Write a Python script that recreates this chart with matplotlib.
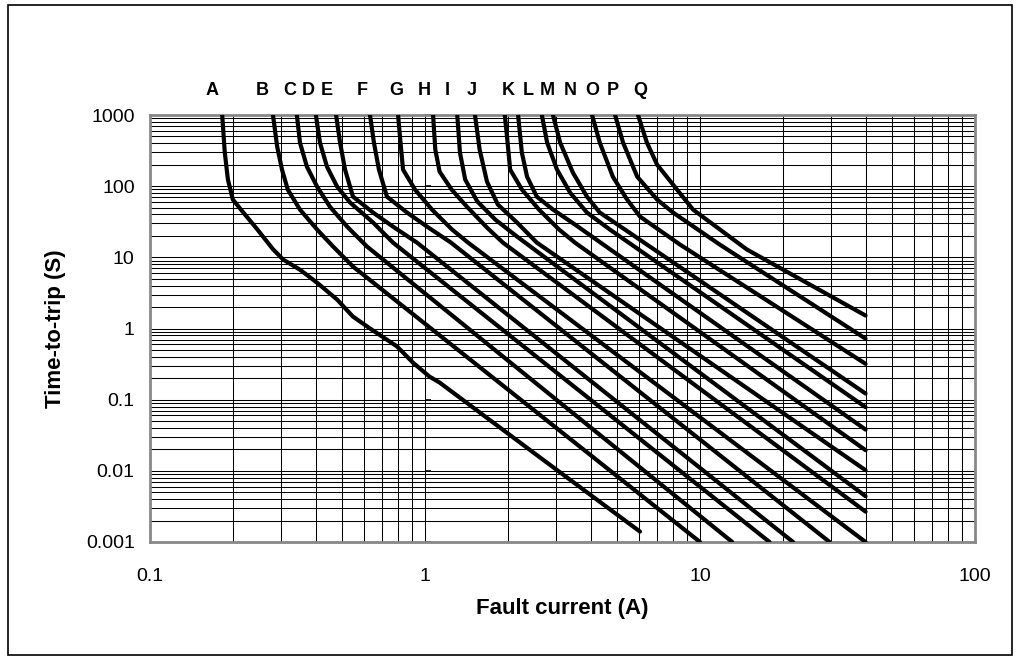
import matplotlib
matplotlib.use("Agg")
import matplotlib.pyplot as plt
from matplotlib.ticker import LogLocator, FixedLocator, FixedFormatter, NullFormatter
from matplotlib.patches import Rectangle

plt.rcParams['font.family'] = ['Liberation Sans', 'DejaVu Sans']

# ---- data: fault current (A) and time-to-trip (s) for each curve ----
curve_names = list("ABCDEFGHIJKLMNOPQ")

A_I = [0.183, 0.187, 0.192, 0.200, 0.218, 0.245, 0.280, 0.305, 0.351, 0.405, 0.479, 0.547, 0.631, 0.791, 0.905, 1.04, 1.13, 2.62, 6.05]
A_T = [1000, 300, 124, 65, 43, 25, 13, 9.3, 6.7, 4.4, 2.55, 1.47, 1.0, 0.56, 0.33, 0.21, 0.174, 0.0154, 0.0014]
B_I = [0.280, 0.290, 0.302, 0.317, 0.351, 0.405, 0.463, 0.547, 10.0]
B_T = [1000, 360, 171, 89.4, 46.9, 24.6, 14.2, 7.43, 0.001]
C_I = [0.342, 0.351, 0.372, 0.405, 0.451, 0.521, 0.615, 13.1]
C_T = [1000, 410, 188, 98.6, 51.5, 27.0, 14.2, 0.001]
D_I = [0.401, 0.415, 0.440, 0.479, 0.534, 0.647, 0.765, 17.9]
D_T = [1000, 410, 188, 98.6, 58.9, 30.9, 16.1, 0.001]
E_I = [0.475, 0.491, 0.512, 0.547, 0.647, 0.765, 0.935, 21.8]
E_T = [1000, 410, 171, 71.3, 42.6, 27.0, 16.1, 0.001]
F_I = [0.631, 0.652, 0.680, 0.727, 0.860, 1.017, 1.243, 29.6]
F_T = [1000, 410, 171, 71.3, 42.6, 27.0, 16.1, 0.001]
G_I = [0.798, 0.811, 0.832, 0.920, 1.060, 1.254, 1.434, 40]
G_T = [1000, 497, 171, 89.4, 46.9, 24.6, 16.1, 0.001]
H_I = [1.07, 1.09, 1.13, 1.25, 1.42, 1.68, 1.92, 40]
H_T = [1000, 327, 160, 89.4, 51.5, 26.2, 16.1, 0.00267]
I_I = [1.31, 1.34, 1.40, 1.55, 1.80, 2.16, 40]
I_T = [1000, 297, 124, 60.8, 34.0, 19.6, 0.0044]
J_I = [1.52, 1.58, 1.68, 1.84, 2.16, 2.55, 40]
J_T = [1000, 327, 116, 55.2, 30.9, 16.1, 0.0102]
K_I = [1.95, 1.987, 2.04, 2.253, 2.597, 3.072, 3.51, 40]
K_T = [1000, 497, 171, 89.4, 46.9, 24.6, 16.1, 0.0195]
L_I = [2.18, 2.25, 2.35, 2.55, 2.92, 3.51, 40]
L_T = [1000, 297, 136, 71.3, 46.9, 28.9, 0.038]
M_I = [2.66, 2.78, 3.02, 3.37, 3.88, 4.70, 40]
M_T = [1000, 410, 171, 81.1, 42.6, 24.6, 0.0785]
N_I = [2.92, 3.10, 3.45, 3.88, 4.32, 5.33, 40]
N_T = [1000, 410, 155, 71.3, 42.6, 24.6, 0.122]
O_I = [4.05, 4.32, 4.82, 5.43, 6.05, 8.46, 40]
O_T = [1000, 410, 136, 64.9, 37.4, 15.1, 0.319]
P_I = [4.91, 5.25, 5.91, 6.98, 7.98, 11.8, 40]
P_T = [1000, 410, 136, 64.9, 42.6, 15.1, 0.72]
Q_I = [5.95, 6.41, 6.98, 8.25, 9.43, 14.8, 40]
Q_T = [1000, 410, 201, 89.4, 46.9, 12.9, 1.52]

currents = [A_I, B_I, C_I, D_I, E_I, F_I, G_I, H_I, I_I, J_I, K_I, L_I, M_I, N_I, O_I, P_I, Q_I]
times = [A_T, B_T, C_T, D_T, E_T, F_T, G_T, H_T, I_T, J_T, K_T, L_T, M_T, N_T, O_T, P_T, Q_T]

x_ticks = [0.1, 1, 10, 100]
x_tick_labels = ["0.1", "1", "10", "100"]
y_ticks = [0.001, 0.01, 0.1, 1, 10, 100, 1000]
y_tick_labels = ["0.001", "0.01", "0.1", "1", "10", "100", "1000"]

# label placement (axes fraction) for the curve letters
label_xfrac = [0.075, 0.136, 0.170, 0.1915, 0.2145, 0.257, 0.299, 0.333, 0.360,
               0.390, 0.434, 0.458, 0.482, 0.509, 0.536, 0.561, 0.594]

W, H, DPI = 1019, 660, 100
fig = plt.figure(figsize=(W / DPI, H / DPI), dpi=DPI)
ax = fig.add_axes([150 / W, 1 - 542 / H, 825 / W, 427 / H])
ax.set_xscale('log')
ax.set_yscale('log')
ax.set_xlim(0.1, 100)
ax.set_ylim(0.001, 1000)

ax.xaxis.set_major_locator(FixedLocator(x_ticks))
ax.xaxis.set_major_formatter(FixedFormatter(x_tick_labels))
ax.yaxis.set_major_locator(FixedLocator(y_ticks))
ax.yaxis.set_major_formatter(FixedFormatter(y_tick_labels))
ax.xaxis.set_minor_locator(LogLocator(base=10, subs=range(2, 10), numticks=50))
ax.yaxis.set_minor_locator(LogLocator(base=10, subs=range(2, 10), numticks=50))
ax.xaxis.set_minor_formatter(NullFormatter())
ax.yaxis.set_minor_formatter(NullFormatter())

ax.grid(True, which='both', color='black', linewidth=0.75)
ax.set_axisbelow(True)
ax.tick_params(which='both', length=0)
ax.tick_params(axis='x', pad=19, labelsize=14)
ax.tick_params(axis='y', pad=11, labelsize=14)
for s in ax.spines.values():
    s.set_color('#888888')
    s.set_linewidth(2)

# small tick marks of the secondary axis crossing at 1 A
ax.plot([x_ticks[1]] * len(y_ticks), y_ticks, linestyle='none', marker=[(0, 0), (1, 0)],
        markersize=9, markeredgewidth=1.2, color='black', clip_on=False, zorder=1.5)

for I, T in zip(currents, times):
    ax.plot(I, T, color='black', linewidth=3.0, solid_joinstyle='round',
            solid_capstyle='round', zorder=3)

for name, xf in zip(curve_names, label_xfrac):
    ax.text(xf, 1.0585, name, transform=ax.transAxes, ha='center', va='center',
            fontsize=13, fontweight='bold')

ax.set_xlabel("Fault current (A)", fontsize=16, fontweight='bold', labelpad=9)
ax.set_ylabel("Time-to-trip (S)", fontsize=16, fontweight='bold', labelpad=14)

fig.patches.append(Rectangle((8 / W, 5 / H), 1004 / W, 650 / H, transform=fig.transFigure,
                             fill=False, edgecolor='black', linewidth=1.2))

fig.savefig("out.png", dpi=DPI)
